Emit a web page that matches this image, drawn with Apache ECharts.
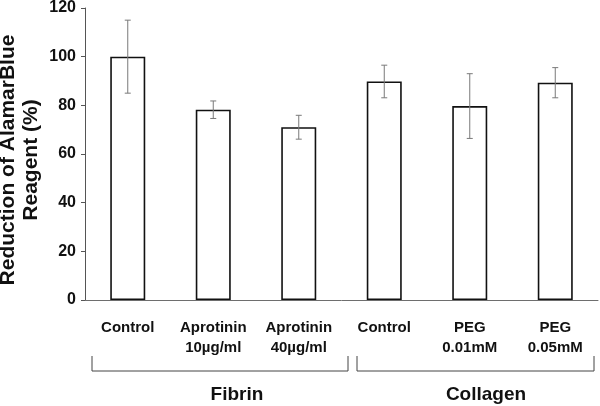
<!DOCTYPE html>
<html>
<head>
<meta charset="utf-8">
<script src="https://cdn.jsdelivr.net/npm/echarts@6/dist/echarts.min.js"></script>
<style>html,body{margin:0;padding:0;background:#fff}#c{width:600px;height:406px}</style>
</head>
<body>
<div id="c"></div>
<script>
const categories = ['Control', 'Aprotinin\n10µg/ml', 'Aprotinin\n40µg/ml', 'Control', 'PEG\n0.01mM', 'PEG\n0.05mM'];
const means = [100, 78.2, 71.0, 89.8, 79.7, 89.3];
const errors = [15, 3.6, 4.9, 6.7, 13.3, 6.2];
const yTicks = [0, 20, 40, 60, 80, 100, 120];
const groups = ['Fibrin', 'Collagen'];

const FONT = '"Liberation Sans", Arial, sans-serif';
const chart = echarts.init(document.getElementById('c'), null, {renderer: 'canvas'});

const errData = means.map((m, i) => [i, m - errors[i], m + errors[i]]);

chart.setOption({
  animation: false,
  backgroundColor: '#fff',
  grid: {left: 85, right: 2, top: 6, bottom: 106, containLabel: false},
  xAxis: {
    type: 'category',
    data: categories,
    axisLine: {lineStyle: {color: '#6e6e6e', width: 1}},
    axisTick: {show: false},
    axisLabel: {
      interval: 0, margin: 18, color: '#111',
      fontFamily: FONT, fontWeight: 'bold', fontSize: 15, lineHeight: 20,
      verticalAlign: 'top'
    }
  },
  yAxis: {
    type: 'value', min: yTicks[0], max: yTicks[yTicks.length - 1], interval: 20,
    axisLine: {show: true, lineStyle: {color: '#555', width: 1}},
    axisTick: {show: true, length: 4, lineStyle: {color: '#555'}},
    splitLine: {show: false},
    axisLabel: {margin: 9, color: '#111', fontFamily: FONT, fontWeight: 'bold', fontSize: 16}
  },
  series: [
    {
      type: 'bar',
      data: means,
      barWidth: 35,
      itemStyle: {color: '#fff', borderColor: '#111', borderWidth: 1.6}
    },
    {
      type: 'custom',
      data: errData,
      z: 10,
      renderItem: function (params, api) {
        const x = api.value(0);
        const lo = api.coord([x, api.value(1)]);
        const hi = api.coord([x, api.value(2)]);
        const w = 3;
        const st = {stroke: '#7a7a7a', lineWidth: 1};
        return {
          type: 'group',
          children: [
            {type: 'line', shape: {x1: hi[0], y1: hi[1], x2: lo[0], y2: lo[1]}, style: st},
            {type: 'line', shape: {x1: hi[0] - w, y1: hi[1], x2: hi[0] + w, y2: hi[1]}, style: st},
            {type: 'line', shape: {x1: lo[0] - w, y1: lo[1], x2: lo[0] + w, y2: lo[1]}, style: st}
          ]
        };
      }
    }
  ],
  graphic: [
    {
      type: 'text', x: 20, y: 160, rotation: Math.PI / 2,
      style: {
        text: 'Reduction of AlamarBlue\nReagent (%)',
        align: 'center', verticalAlign: 'middle',
        font: 'bold 21px ' + FONT, fill: '#111', lineHeight: 23
      }
    },
    {type: 'polyline', shape: {points: [[92, 356], [92, 371], [348, 371], [348, 356]]}, style: {stroke: '#444', lineWidth: 1, fill: null}},
    {type: 'polyline', shape: {points: [[357, 356], [357, 371], [594, 371], [594, 356]]}, style: {stroke: '#444', lineWidth: 1, fill: null}},
    {type: 'text', x: 237, y: 395, style: {text: groups[0], align: 'center', verticalAlign: 'middle', font: 'bold 19px ' + FONT, fill: '#111'}},
    {type: 'text', x: 486, y: 395, style: {text: groups[1], align: 'center', verticalAlign: 'middle', font: 'bold 19px ' + FONT, fill: '#111'}}
  ]
});
</script>
</body>
</html>
